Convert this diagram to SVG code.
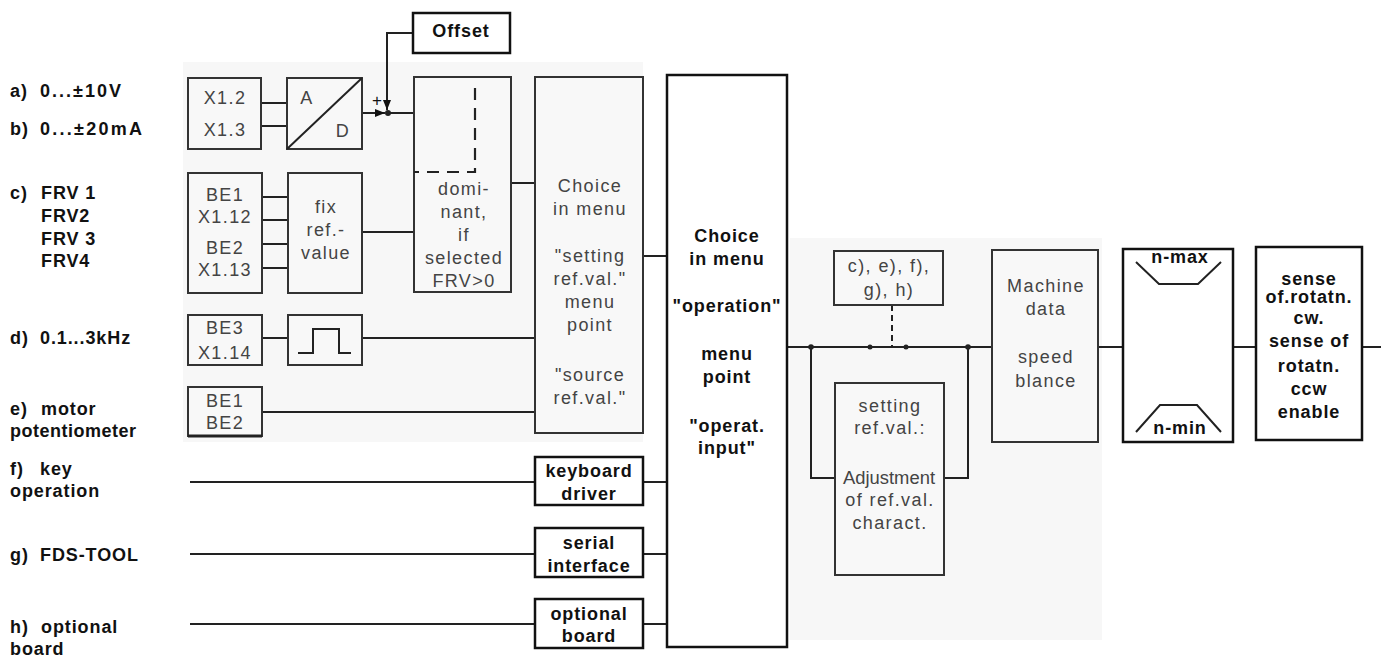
<svg xmlns="http://www.w3.org/2000/svg" width="1381" height="660" viewBox="0 0 1381 660">
<style>
.bg{fill:#fff}
.tint{fill:#f7f7f7}
.box{fill:#f8f8f8;stroke:#333;stroke-width:2}
.wbox{fill:#fff;stroke:#111;stroke-width:2.5}
.ln{fill:none;stroke:#222;stroke-width:2}
.dash{fill:none;stroke:#222;stroke-width:2.2;stroke-dasharray:12 8}
.dash2{fill:none;stroke:#222;stroke-width:2;stroke-dasharray:6 4}
text{font-family:"Liberation Sans",Arial,sans-serif;font-size:18px}
.t{fill:#444;letter-spacing:1.4px;text-anchor:middle}
.tb{fill:#111;font-weight:bold;letter-spacing:0.9px;text-anchor:middle}
.lb{fill:#111;font-weight:bold;letter-spacing:0.9px}
.dot{fill:#222}
</style>
<defs>
<marker id="arr" markerUnits="userSpaceOnUse" markerWidth="10" markerHeight="8" refX="10" refY="4" orient="auto">
<path d="M0,0 L10,4 L0,8 z" fill="#111"/>
</marker>
</defs>
<rect class="bg" x="0" y="0" width="1381" height="660"/>
<rect class="tint" x="183" y="62" width="460" height="380"/>
<rect class="tint" x="790" y="238" width="312" height="402"/>

<g id="labels">
<text class="lb" x="10" y="97">a)</text><text class="lb" x="40" y="97" textLength="82" lengthAdjust="spacing">0...±10V</text>
<text class="lb" x="10" y="135">b)</text><text class="lb" x="40" y="135" textLength="103" lengthAdjust="spacing">0...±20mA</text>
<text class="lb" x="10" y="199">c)</text><text class="lb" x="41" y="199">FRV 1</text>
<text class="lb" x="41" y="222">FRV2</text>
<text class="lb" x="41" y="245">FRV 3</text>
<text class="lb" x="41" y="267">FRV4</text>
<text class="lb" x="10" y="344">d)</text><text class="lb" x="40" y="344">0.1...3kHz</text>
<text class="lb" x="10" y="415">e)</text><text class="lb" x="41" y="415">motor</text>
<text class="lb" x="10" y="437" textLength="127" lengthAdjust="spacing">potentiometer</text>
<text class="lb" x="10" y="475">f)</text><text class="lb" x="40" y="475">key</text>
<text class="lb" x="10" y="497">operation</text>
<text class="lb" x="10" y="561">g)</text><text class="lb" x="40" y="561">FDS-TOOL</text>
<text class="lb" x="10" y="633">h)</text><text class="lb" x="41" y="633">optional</text>
<text class="lb" x="10" y="655">board</text>
</g>

<g id="connectors">
<line class="ln" x1="261" y1="103" x2="287" y2="103"/>
<line class="ln" x1="261" y1="126" x2="287" y2="126"/>
<line class="ln" x1="362" y1="113" x2="385" y2="113" marker-end="url(#arr)"/>
<line class="ln" x1="388" y1="113" x2="414" y2="113"/>
<polyline class="ln" points="413,33 387,33 387,110" marker-end="url(#arr)"/>
<line class="ln" x1="262" y1="197" x2="288" y2="197"/>
<line class="ln" x1="262" y1="220" x2="288" y2="220"/>
<line class="ln" x1="262" y1="244" x2="288" y2="244"/>
<line class="ln" x1="262" y1="268" x2="288" y2="268"/>
<line class="ln" x1="362" y1="232" x2="414" y2="232"/>
<line class="ln" x1="511" y1="183" x2="535" y2="183"/>
<line class="ln" x1="262" y1="338" x2="288" y2="338"/>
<line class="ln" x1="362" y1="338" x2="535" y2="338"/>
<line class="ln" x1="262" y1="412" x2="535" y2="412"/>
<line class="ln" x1="643" y1="256" x2="667" y2="256"/>
<line class="ln" x1="190" y1="482" x2="535" y2="482"/>
<line class="ln" x1="643" y1="482" x2="667" y2="482"/>
<line class="ln" x1="190" y1="554" x2="535" y2="554"/>
<line class="ln" x1="643" y1="554" x2="667" y2="554"/>
<line class="ln" x1="190" y1="624" x2="535" y2="624"/>
<line class="ln" x1="643" y1="624" x2="667" y2="624"/>
<line class="ln" x1="787" y1="347" x2="992" y2="347"/>
<line class="dash2" x1="892" y1="305" x2="892" y2="347"/>
<polyline class="ln" points="811,347 811,478 835,478"/>
<polyline class="ln" points="944,478 968,478 968,347"/>
<line class="ln" x1="1098" y1="347" x2="1123" y2="347"/>
<line class="ln" x1="1233" y1="347" x2="1256" y2="347"/>
<line class="ln" x1="1362" y1="347" x2="1381" y2="347"/>
<circle class="dot" cx="388" cy="113" r="3"/>
<circle class="dot" cx="811" cy="347" r="2.8"/>
<circle class="dot" cx="870" cy="347" r="2.5"/>
<circle class="dot" cx="906" cy="347" r="2.5"/>
<circle class="dot" cx="968" cy="347" r="2.8"/>
<text class="tb" x="377" y="106" style="font-size:17px;font-weight:normal;letter-spacing:0">+</text>
</g>

<g id="offset">
<rect class="wbox" x="413" y="13" width="97" height="40"/>
<text class="tb" x="461" y="37">Offset</text>
</g>

<g id="x12">
<rect class="box" x="188" y="78" width="73" height="71"/>
<text class="t" x="225" y="104">X1.2</text>
<text class="t" x="225" y="136">X1.3</text>
</g>

<g id="ad">
<rect class="box" x="287" y="78" width="75" height="71"/>
<line class="ln" x1="287" y1="149" x2="362" y2="78"/>
<text class="t" x="307" y="104">A</text>
<text class="t" x="343" y="137">D</text>
</g>

<g id="be12">
<rect class="box" x="188" y="173" width="74" height="120"/>
<text class="t" x="225" y="201">BE1</text>
<text class="t" x="225" y="223">X1.12</text>
<text class="t" x="225" y="254">BE2</text>
<text class="t" x="225" y="276">X1.13</text>
</g>

<g id="fixref">
<rect class="box" x="288" y="173" width="74" height="120"/>
<text class="t" x="326" y="213">fix</text>
<text class="t" x="326" y="236">ref.-</text>
<text class="t" x="326" y="259">value</text>
</g>

<g id="dominant">
<rect class="box" x="414" y="77" width="97" height="215"/>
<path class="dash" d="M475,88 V172 H414"/>
<text class="t" x="464" y="195">domi-</text>
<text class="t" x="464" y="218">nant,</text>
<text class="t" x="464" y="241">if</text>
<text class="t" x="464" y="264">selected</text>
<text class="t" x="464" y="287">FRV&gt;0</text>
</g>

<g id="choice1">
<rect class="box" x="535" y="77" width="108" height="356"/>
<text class="t" x="590" y="192">Choice</text>
<text class="t" x="590" y="215">in menu</text>
<text class="t" x="590" y="262">"setting</text>
<text class="t" x="590" y="285">ref.val."</text>
<text class="t" x="590" y="308">menu</text>
<text class="t" x="590" y="331">point</text>
<text class="t" x="590" y="381">"source</text>
<text class="t" x="590" y="404">ref.val."</text>
</g>

<g id="be3">
<rect class="box" x="188" y="315" width="74" height="50"/>
<text class="t" x="225" y="334">BE3</text>
<text class="t" x="225" y="359">X1.14</text>
</g>

<g id="pulse">
<rect class="box" x="288" y="315" width="74" height="50"/>
<polyline class="ln" points="298,353 313,353 313,329 339,329 339,353 351,353"/>
</g>

<g id="be1be2">
<rect class="box" x="188" y="387" width="74" height="49"/>
<line class="ln" x1="188" y1="436" x2="262" y2="436" style="stroke-width:3"/>
<text class="t" x="225" y="407">BE1</text>
<text class="t" x="225" y="429">BE2</text>
</g>

<g id="keyboard">
<rect class="wbox" x="535" y="457" width="108" height="48"/>
<text class="tb" x="589" y="477">keyboard</text>
<text class="tb" x="589" y="500">driver</text>
</g>

<g id="serial">
<rect class="wbox" x="535" y="528" width="108" height="49"/>
<text class="tb" x="589" y="549">serial</text>
<text class="tb" x="589" y="572">interface</text>
</g>

<g id="optboard">
<rect class="wbox" x="535" y="599" width="108" height="49"/>
<text class="tb" x="589" y="620">optional</text>
<text class="tb" x="589" y="642">board</text>
</g>

<g id="choice2">
<rect class="wbox" x="667" y="75" width="120" height="572"/>
<text class="tb" x="727" y="242">Choice</text>
<text class="tb" x="727" y="265">in menu</text>
<text class="tb" x="727" y="312">"operation"</text>
<text class="tb" x="727" y="360">menu</text>
<text class="tb" x="727" y="383">point</text>
<text class="tb" x="727" y="432">"operat.</text>
<text class="tb" x="727" y="454">input"</text>
</g>

<g id="sources">
<rect class="box" x="834" y="251" width="109" height="54"/>
<text class="t" x="889" y="272">c), e), f),</text>
<text class="t" x="889" y="296">g), h)</text>
</g>

<g id="setting">
<rect class="box" x="835" y="383" width="109" height="192"/>
<text class="t" x="890" y="412">setting</text>
<text class="t" x="890" y="434">ref.val.:</text>
<text class="t" x="889" y="484" textLength="92" lengthAdjust="spacingAndGlyphs" style="letter-spacing:0">Adjustment</text>
<text class="t" x="890" y="506">of ref.val.</text>
<text class="t" x="890" y="529">charact.</text>
</g>

<g id="machine">
<rect class="box" x="992" y="250" width="106" height="192"/>
<text class="t" x="1046" y="292">Machine</text>
<text class="t" x="1046" y="315">data</text>
<text class="t" x="1046" y="363">speed</text>
<text class="t" x="1046" y="387">blance</text>
</g>

<g id="limits">
<rect class="wbox" x="1123" y="249" width="110" height="193"/>
<polyline class="ln" points="1136,262 1159,284 1198,284 1221,262"/>
<polyline class="ln" points="1136,432 1160,405 1197,405 1221,432"/>
<text class="tb" x="1180" y="263">n-max</text>
<text class="tb" x="1180" y="434">n-min</text>
</g>

<g id="sense">
<rect class="wbox" x="1256" y="247" width="106" height="193"/>
<text class="tb" x="1309" y="285">sense</text>
<text class="tb" x="1309" y="303">of.rotatn.</text>
<text class="tb" x="1309" y="324">cw.</text>
<text class="tb" x="1309" y="347">sense of</text>
<text class="tb" x="1309" y="372">rotatn.</text>
<text class="tb" x="1309" y="395">ccw</text>
<text class="tb" x="1309" y="418">enable</text>
</g>
</svg>
